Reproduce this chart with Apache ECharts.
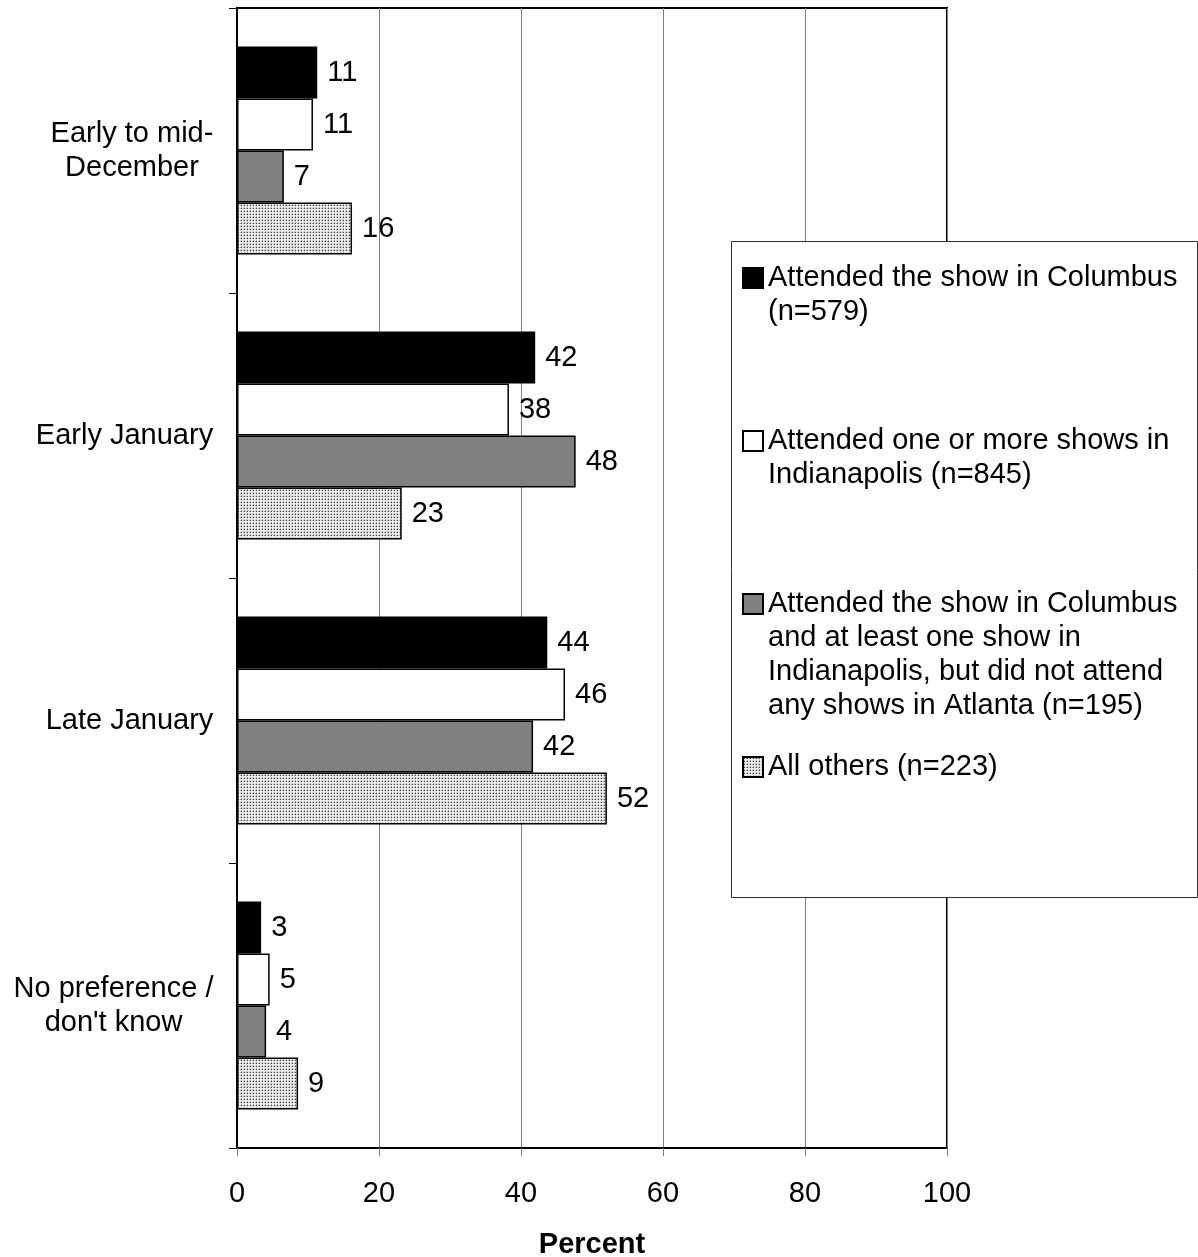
<!DOCTYPE html>
<html>
<head>
<meta charset="utf-8">
<script src="https://cdn.jsdelivr.net/npm/echarts@6/dist/echarts.min.js"></script>
<style>
html,body{margin:0;padding:0;background:#fff;}
#chart{width:1198px;height:1257px;}
</style>
</head>
<body>
<div id="chart"></div>
<script>
const categories = ['Early to mid-\nDecember', 'Early January', 'Late January', "No preference /\ndon't know"];
const seriesNames = [
  'Attended the show in Columbus (n=579)',
  'Attended one or more shows in Indianapolis (n=845)',
  'Attended the show in Columbus and at least one show in Indianapolis, but did not attend any shows in Atlanta (n=195)',
  'All others (n=223)'
];
const legendLines = [
  ['Attended the show in Columbus', '(n=579)'],
  ['Attended one or more shows in', 'Indianapolis (n=845)'],
  ['Attended the show in Columbus', 'and at least one show in', 'Indianapolis, but did not attend', 'any shows in Atlanta (n=195)'],
  ['All others (n=223)']
];
const columbus = [11.3, 42.0, 43.7, 3.4];
const indianapolis = [10.7, 38.3, 46.2, 4.6];
const both = [6.6, 47.7, 41.7, 4.1];
const others = [16.2, 23.2, 52.1, 8.6];
const xTicks = [0, 20, 40, 60, 80, 100];

const FONT = '"Liberation Sans", Arial, Helvetica, sans-serif';
const FS = 29;

// dotted fill pattern
const pat = document.createElement('canvas');
pat.width = 3; pat.height = 3;
const pctx = pat.getContext('2d');
pctx.fillStyle = '#ececec'; pctx.fillRect(0, 0, 3, 3);
pctx.fillStyle = '#b4b4b4'; pctx.fillRect(0, 1, 1, 1); pctx.fillRect(1, 0, 1, 1);
pctx.fillStyle = '#3a3a3a'; pctx.fillRect(1, 1, 1, 1);

// measure text for centered multi-line category labels
const mc = document.createElement('canvas').getContext('2d');
mc.font = FS + 'px ' + FONT;
const rich = {};
categories.forEach((c, i) => {
  const w = Math.max(...c.split('\n').map(l => mc.measureText(l).width));
  rich['c' + i] = { width: Math.ceil(w) + 1, align: 'center', fontSize: FS, fontFamily: FONT, color: '#000', lineHeight: 34 };
});

const colors = ['#000000', '#ffffff', '#808080', { image: pat, repeat: 'repeat' }];
const dataSets = [columbus, indianapolis, both, others];

const series = dataSets.map((d, i) => ({
  name: seriesNames[i],
  type: 'bar',
  data: d,
  barWidth: 52,
  barGap: '0%',
  itemStyle: { color: colors[i], borderColor: '#000', borderWidth: 1.5 },
  label: {
    show: true, position: 'right', distance: 10,
    fontSize: FS, fontFamily: FONT, color: '#000',
    formatter: p => Math.round(p.value)
  },
  emphasis: { disabled: true },
  animation: false
}));

const iconCenters = [278, 441, 604, 767];
const legends = legendLines.map((lines, i) => {
  const n = lines.length;
  const padLines = [];
  for (let k = 0; k < n - 1; k++) padLines.push(' ');
  return {
    data: [seriesNames[i]],
    left: 742,
    top: iconCenters[i] - (2 * n - 1) * 17,
    padding: 0,
    z: 6,
    itemWidth: 20, itemHeight: 20,
    icon: 'rect',
    selectedMode: false,
    formatter: () => padLines.concat(lines).join('\n'),
    textStyle: {
      fontSize: FS, fontFamily: FONT, color: '#000', lineHeight: 34
    }
  };
});

const chart = echarts.init(document.getElementById('chart'), null, { renderer: 'canvas' });
chart.setOption({
  animation: false,
  backgroundColor: '#fff',
  grid: { left: 237, right: 251, top: 8, bottom: 109, show: true, borderColor: '#000', borderWidth: 2, containLabel: false, outerBoundsMode: 'none' },
  xAxis: {
    type: 'value', min: xTicks[0], max: xTicks[xTicks.length - 1], interval: 20,
    axisLine: { show: true, lineStyle: { color: '#000', width: 2 } },
    axisTick: { show: true, length: 8, lineStyle: { color: '#808080', width: 1 } },
    splitLine: { show: true, lineStyle: { color: '#808080', width: 1 } },
    axisLabel: { fontSize: FS, fontFamily: FONT, color: '#000', margin: 31 },
    name: 'Percent', nameLocation: 'middle', nameGap: 82,
    nameTextStyle: { fontSize: FS, fontFamily: FONT, fontWeight: 'bold', color: '#000' }
  },
  yAxis: {
    type: 'category', data: categories, inverse: true,
    axisLine: { show: true, lineStyle: { color: '#000', width: 2 } },
    axisTick: { show: true, length: 8, lineStyle: { color: '#000', width: 1 } },
    splitLine: { show: false },
    axisLabel: {
      margin: 23, align: 'right',
      formatter: (v, idx) => v.split('\n').map(l => '{c' + idx + '|' + l + '}').join('\n'),
      rich: rich
    }
  },
  legend: legends,
  graphic: [{
    type: 'rect', left: 731, top: 241, z: 5,
    shape: { width: 466, height: 656 },
    style: { fill: '#fff', stroke: '#333', lineWidth: 1 }
  }],
  series: series
});
</script>
</body>
</html>
